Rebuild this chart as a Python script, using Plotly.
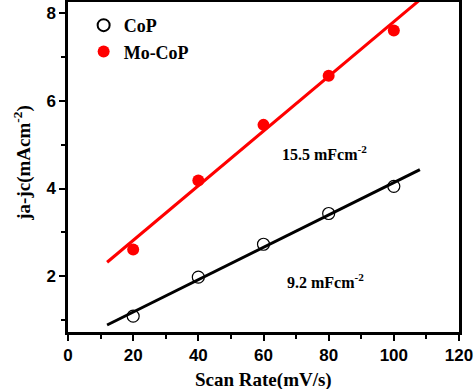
import plotly.graph_objects as go

scan_rate = [20, 40, 60, 80, 100]
cop = [1.09, 1.98, 2.73, 3.43, 4.05]
mocop = [2.61, 4.18, 5.45, 6.57, 7.60]
fit_x = [12, 108]
cop_fit = [0.89, 4.43]
mocop_fit = [2.32, 8.30]

serif = "Liberation Serif"
sans = "Liberation Sans"

fig = go.Figure()
fig.add_trace(go.Scatter(x=fit_x, y=cop_fit, mode="lines", line=dict(color="black", width=3), showlegend=False))
fig.add_trace(go.Scatter(x=fit_x, y=mocop_fit, mode="lines", line=dict(color="#ff0000", width=3), showlegend=False))
fig.add_trace(go.Scatter(x=scan_rate, y=cop, mode="markers", name="CoP",
                         marker=dict(symbol="circle-open", size=12, color="black", line=dict(width=1.2))))
fig.add_trace(go.Scatter(x=scan_rate, y=mocop, mode="markers", name="Mo-CoP",
                         marker=dict(symbol="circle", size=12, color="#ff0000")))

fig.add_annotation(x=78.6, y=4.8, text="<b>15.5 mFcm<sup>-2</sup></b>", showarrow=False,
                   font=dict(family=serif, size=16, color="black"))
fig.add_annotation(x=79, y=1.9, text="<b>9.2 mFcm<sup>-2</sup></b>", showarrow=False,
                   font=dict(family=serif, size=16, color="black"))

# axis titles
fig.add_annotation(x=0.50, y=-0.145, xref="paper", yref="paper", xanchor="center", yanchor="middle",
                   text="<b>Scan Rate(mV/s)</b>", showarrow=False,
                   font=dict(family=serif, size=19, color="black"))
fig.add_annotation(x=-0.115, y=0.51, xref="paper", yref="paper", xanchor="center", yanchor="middle",
                   text="<b>ja-jc(mAcm<sup>-2</sup>)</b>", showarrow=False, textangle=-90,
                   font=dict(family=serif, size=19, color="black"))

axis_common = dict(showline=True, linecolor="black", linewidth=2.5, mirror=True,
                   ticks="outside", ticklen=6, tickwidth=2, tickcolor="black",
                   showgrid=False, zeroline=False, automargin=False,
                   tickfont=dict(family=sans, size=17, color="black", weight="bold"))

fig.update_xaxes(range=[0, 120], dtick=20, tick0=0,
                 minor=dict(dtick=10, ticks="outside", ticklen=4, tickwidth=2, tickcolor="black"),
                 **axis_common)
fig.update_yaxes(range=[0.73, 8.25], dtick=2, tick0=0,
                 minor=dict(dtick=1, ticks="outside", ticklen=4, tickwidth=2, tickcolor="black"),
                 **axis_common)

fig.update_layout(width=474, height=389, margin=dict(l=68, r=15, t=2, b=57),
                  plot_bgcolor="white", paper_bgcolor="white",
                  legend=dict(x=0.04, y=0.985, xanchor="left", yanchor="top", bgcolor="rgba(0,0,0,0)",
                              font=dict(family=serif, size=18, color="black", weight="bold"),
                              itemsizing="constant", tracegroupgap=2))

fig.write_html("out.html", config={"displayModeBar": False},
               post_script="document.body.style.margin='0';document.body.style.overflow='hidden';")
